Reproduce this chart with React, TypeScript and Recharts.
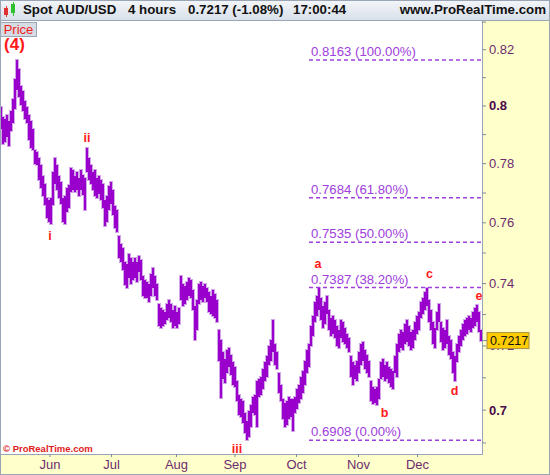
import { ComposedChart, Bar, Scatter, XAxis, YAxis, ReferenceLine } from 'recharts'

const FONT = 'Arial, "Liberation Sans", Helvetica, sans-serif'

// 4 hour bars, high / low per column
const highs = [
  0.7995, 0.7960, 0.7953, 0.7967, 0.7946, 0.7981, 0.8023, 0.8094, 0.8163, 0.8130,
  0.8072, 0.8051, 0.8016, 0.7995, 0.7967, 0.7946, 0.7918, 0.7848, 0.7841, 0.7820,
  0.7796, 0.7759, 0.7731, 0.7684, 0.7677, 0.7684, 0.7772, 0.7820, 0.7796, 0.7759,
  0.7738, 0.7684, 0.7691, 0.7718, 0.7728, 0.7786, 0.7779, 0.7759, 0.7772, 0.7752,
  0.7779, 0.7762, 0.7752, 0.7855, 0.7820, 0.7796, 0.7772, 0.7779, 0.7752, 0.7759,
  0.7745, 0.7731, 0.7677, 0.7691, 0.7724, 0.7738, 0.7711, 0.7657, 0.7643, 0.7556,
  0.7530, 0.7517, 0.7470, 0.7463, 0.7497, 0.7483, 0.7470, 0.7483, 0.7470, 0.7490,
  0.7476, 0.7424, 0.7411, 0.7405, 0.7398, 0.7431, 0.7450, 0.7424, 0.7398, 0.7333,
  0.7320, 0.7314, 0.7308, 0.7333, 0.7346, 0.7333, 0.7314, 0.7327, 0.7308, 0.7320,
  0.7424, 0.7398, 0.7392, 0.7405, 0.7418, 0.7411, 0.7379, 0.7327, 0.7346, 0.7398,
  0.7405, 0.7392, 0.7398, 0.7385, 0.7372, 0.7359, 0.7379, 0.7366, 0.7346, 0.7250,
  0.7218, 0.7180, 0.7160, 0.7186, 0.7192, 0.7173, 0.7148, 0.7135, 0.7091, 0.7047,
  0.7035, 0.7029, 0.6992, 0.6967, 0.6998, 0.7017, 0.7041, 0.7047, 0.7091, 0.7097,
  0.7104, 0.7129, 0.7148, 0.7167, 0.7199, 0.7218, 0.7282, 0.7205, 0.7180, 0.7116,
  0.7079, 0.7035, 0.7023, 0.7029, 0.7041, 0.7035, 0.7035, 0.7041, 0.7066, 0.7079,
  0.7104, 0.7122, 0.7154, 0.7186, 0.7205, 0.7263, 0.7295, 0.7340, 0.7359, 0.7387,
  0.7353, 0.7327, 0.7340, 0.7359, 0.7314, 0.7288, 0.7295, 0.7282, 0.7263, 0.7250,
  0.7282, 0.7275, 0.7256, 0.7237, 0.7224, 0.7167, 0.7148, 0.7141, 0.7154, 0.7180,
  0.7205, 0.7212, 0.7186, 0.7173, 0.7154, 0.7091, 0.7072, 0.7066, 0.7072, 0.7097,
  0.7148, 0.7160, 0.7141, 0.7148, 0.7135, 0.7129, 0.7122, 0.7167, 0.7205, 0.7237,
  0.7250, 0.7243, 0.7269, 0.7282, 0.7263, 0.7243, 0.7250, 0.7275, 0.7295, 0.7308,
  0.7340, 0.7353, 0.7372, 0.7385, 0.7346, 0.7314, 0.7275, 0.7256, 0.7308, 0.7333,
  0.7275, 0.7256, 0.7250, 0.7282, 0.7231, 0.7218, 0.7180, 0.7167, 0.7205, 0.7231,
  0.7250, 0.7269, 0.7282, 0.7288, 0.7295, 0.7288, 0.7308, 0.7320, 0.7330, 0.7308,
  0.7250,
]
const lows = [
  0.7918, 0.7866, 0.7876, 0.7890, 0.7862, 0.7911, 0.7939, 0.7988, 0.8058, 0.8030,
  0.8002, 0.7981, 0.7953, 0.7939, 0.7883, 0.7855, 0.7848, 0.7799, 0.7796, 0.7745,
  0.7718, 0.7691, 0.7660, 0.7616, 0.7602, 0.7596, 0.7660, 0.7731, 0.7711, 0.7684,
  0.7663, 0.7602, 0.7596, 0.7636, 0.7650, 0.7704, 0.7711, 0.7704, 0.7711, 0.7691,
  0.7711, 0.7694, 0.7643, 0.7772, 0.7745, 0.7731, 0.7711, 0.7691, 0.7684, 0.7697,
  0.7677, 0.7650, 0.7589, 0.7602, 0.7643, 0.7663, 0.7626, 0.7583, 0.7569, 0.7483,
  0.7470, 0.7444, 0.7395, 0.7385, 0.7418, 0.7398, 0.7411, 0.7418, 0.7405, 0.7437,
  0.7411, 0.7359, 0.7353, 0.7353, 0.7340, 0.7359, 0.7385, 0.7359, 0.7346, 0.7263,
  0.7256, 0.7263, 0.7269, 0.7282, 0.7288, 0.7275, 0.7256, 0.7263, 0.7256, 0.7269,
  0.7346, 0.7327, 0.7333, 0.7346, 0.7359, 0.7353, 0.7314, 0.7218, 0.7250, 0.7333,
  0.7346, 0.7340, 0.7353, 0.7340, 0.7308, 0.7301, 0.7295, 0.7288, 0.7275, 0.7154,
  0.7038, 0.7097, 0.7085, 0.7116, 0.7135, 0.7110, 0.7079, 0.7072, 0.7029, 0.6986,
  0.6980, 0.6961, 0.6930, 0.6908, 0.6918, 0.6948, 0.6992, 0.6986, 0.6948, 0.7041,
  0.7047, 0.7066, 0.7091, 0.7104, 0.7141, 0.7154, 0.7180, 0.7141, 0.7129, 0.7054,
  0.7029, 0.6973, 0.6948, 0.6955, 0.6973, 0.6980, 0.6936, 0.6992, 0.7004, 0.7023,
  0.7035, 0.7054, 0.7079, 0.7116, 0.7135, 0.7199, 0.7231, 0.7275, 0.7295, 0.7314,
  0.7282, 0.7256, 0.7269, 0.7301, 0.7250, 0.7231, 0.7237, 0.7224, 0.7199, 0.7192,
  0.7224, 0.7212, 0.7205, 0.7192, 0.7180, 0.7104, 0.7079, 0.7097, 0.7091, 0.7116,
  0.7141, 0.7154, 0.7129, 0.7116, 0.7104, 0.7029, 0.7020, 0.7023, 0.7017, 0.7035,
  0.7097, 0.7104, 0.7091, 0.7097, 0.7085, 0.7072, 0.7066, 0.7116, 0.7104, 0.7180,
  0.7192, 0.7186, 0.7205, 0.7212, 0.7199, 0.7186, 0.7192, 0.7218, 0.7237, 0.7250,
  0.7288, 0.7301, 0.7314, 0.7327, 0.7275, 0.7250, 0.7205, 0.7192, 0.7250, 0.7275,
  0.7212, 0.7186, 0.7192, 0.7205, 0.7173, 0.7160, 0.7116, 0.7091, 0.7148, 0.7180,
  0.7199, 0.7218, 0.7231, 0.7237, 0.7250, 0.7243, 0.7256, 0.7263, 0.7275, 0.7243,
  0.7217,
]

// bar index where each month starts
const monthNames = ['Jun', 'Jul', 'Aug', 'Sep', 'Oct', 'Nov', 'Dec']
const monthTicks = [24.5, 55.25, 87.75, 117, 147.75, 178.75, 208.25]

const priceTicks = [0.69, 0.7, 0.71, 0.72, 0.73, 0.74, 0.75, 0.76, 0.77, 0.78, 0.79, 0.8, 0.81, 0.82, 0.83]
const priceDomain = [0.68665, 0.8304]
const lastPrice = 0.7217

// fibonacci retracement of the (4) -> iii leg
const fibLevels = [0.8163, 0.7684, 0.7535, 0.7387, 0.6908]
const fibPercents = ['100.00%', '61.80%', '50.00%', '38.20%', '0.00%']
const fibStart = 154

// elliott wave labels
const waveNames = ['(4)', 'i', 'ii', 'iii', 'a', 'b', 'c', 'd', 'e']
const waveIndex = [6.75, 24.5, 43, 118, 158.5, 191.75, 214.25, 226.75, 239]
const wavePrice = [0.8198, 0.7543, 0.7873, 0.6869, 0.745, 0.6979, 0.7418, 0.7048, 0.7346]

const bars = highs.map((h, i) => ({ i, range: [lows[i], h] }))
const waves = waveNames.map((name, n) => ({ i: waveIndex[n], p: wavePrice[n], name }))

const BORDER = '#9aa6b6'
const FIB = '#a040dc'

// soft edge drawn under every bar first, then the solid core on top
const HaloBar = (props: any) => {
  const { x, y, width, height } = props
  const cx = Math.round(x + width / 2)
  const top = Math.min(y, y + height)
  const h = Math.max(Math.abs(height), 1)
  return <rect x={cx - 2} y={top - 1} width={4} height={h + 2} fill="#d3a6ea" shapeRendering="crispEdges" />
}

const CoreBar = (props: any) => {
  const { x, y, width, height } = props
  const cx = Math.round(x + width / 2)
  const top = Math.min(y, y + height)
  const h = Math.max(Math.abs(height), 1)
  return <rect x={cx - 1} y={top} width={2} height={h} fill="#9a00cc" shapeRendering="crispEdges" />
}

const PriceTick = (props: any) => {
  const { x, y, payload } = props
  const v = payload.value
  if (v === lastPrice) {
    return (
      <g>
        <line x1={x - 7} x2={x - 2} y1={y} y2={y} stroke="#7d8aa0" />
        <rect x={x - 2} y={y - 8} width={42} height={16} fill="#ffcc00" stroke="#a89040" />
        <text x={x + 1} y={y} dy={4.5} fill="#111" fontSize={12.5} fontFamily={FONT}>
          {lastPrice.toFixed(4)}
        </text>
      </g>
    )
  }
  const cents = Math.round(v * 100)
  const labeled = cents % 2 === 0
  const strong = cents % 10 === 0
  return (
    <g>
      <line x1={x - 7} x2={x - 3} y1={y} y2={y} stroke="#7d8aa0" />
      {labeled && (
        <text
          x={x}
          y={y}
          dy={4.5}
          fill={strong ? '#4b0a4b' : '#6e2c6e'}
          fontWeight={strong ? 'bold' : 'normal'}
          fontSize={13}
          fontFamily={FONT}
        >
          {String(Number(v.toFixed(2)))}
        </text>
      )}
    </g>
  )
}

const MonthTick = (props: any) => {
  const { x, y, payload } = props
  const name = monthNames[monthTicks.indexOf(payload.value)]
  return (
    <g>
      <line x1={x} x2={x} y1={y - 3} y2={y} stroke="#7d8aa0" />
      <text x={x} y={y + 12} textAnchor="middle" fill="#6e2c6e" fontSize={13} fontFamily={FONT}>
        {name}
      </text>
    </g>
  )
}

const WaveLabel = (props: any) => {
  const { cx, cy, payload } = props
  const big = payload.name === '(4)'
  return (
    <text
      x={cx}
      y={cy}
      textAnchor="middle"
      fill="#ff1a1a"
      fontSize={big ? 17 : 12.5}
      fontWeight="bold"
      fontFamily={FONT}
    >
      {payload.name}
    </text>
  )
}

const App = () => {
  return (
    <div
      style={{
        position: 'absolute',
        left: 0,
        top: 0,
        width: 550,
        height: 475,
        background: '#ffffcc',
        fontFamily: FONT,
        overflow: 'hidden',
      }}
    >
      {/* title bar */}
      <div
        style={{
          position: 'absolute',
          left: 0,
          top: 0,
          width: 550,
          height: 21,
          boxSizing: 'border-box',
          background: 'linear-gradient(#f4f6f9, #d8e0ea)',
          borderBottom: `1px solid ${BORDER}`,
          fontSize: 13.3,
          fontWeight: 'bold',
          color: '#111',
        }}
      >
        <div style={{ position: 'absolute', left: 4, top: 8, width: 4, height: 7, background: '#e03030' }} />
        <div style={{ position: 'absolute', left: 5.5, top: 6, width: 1, height: 11, background: '#e03030' }} />
        <div style={{ position: 'absolute', left: 11, top: 4, width: 4, height: 9, background: '#30c030' }} />
        <div style={{ position: 'absolute', left: 12.5, top: 2, width: 1, height: 14, background: '#30c030' }} />
        <span style={{ position: 'absolute', left: 23, top: 2 }}>Spot AUD/USD</span>
        <span style={{ position: 'absolute', left: 128, top: 2 }}>4 hours</span>
        <span style={{ position: 'absolute', left: 188, top: 2 }}>0.7217 (-1.08%)</span>
        <span style={{ position: 'absolute', left: 293, top: 2 }}>17:00:44</span>
        <span style={{ position: 'absolute', right: 4, top: 2 }}>www.ProRealTime.com</span>
      </div>

      {/* plot area */}
      <div
        style={{
          position: 'absolute',
          left: 0,
          top: 21,
          width: 483,
          height: 434,
          boxSizing: 'border-box',
          background: '#ffffff',
          borderLeft: `1px solid ${BORDER}`,
          borderRight: `1px solid ${BORDER}`,
          borderBottom: `1px solid ${BORDER}`,
        }}
      />

      <div style={{ position: 'absolute', left: 0, top: 0 }}>
        <ComposedChart
          width={550}
          height={475}
          data={bars}
          barGap={-2}
          margin={{ top: 21, right: 0, bottom: 0, left: 0 }}
        >
          <XAxis
            type="number"
            dataKey="i"
            domain={[-0.5, 240.5]}
            allowDataOverflow
            ticks={monthTicks}
            interval={0}
            height={21}
            tickSize={3}
            tickMargin={0}
            axisLine={false}
            tickLine={false}
            tick={<MonthTick />}
          />
          <YAxis
            orientation="right"
            type="number"
            scale="log"
            domain={priceDomain}
            allowDataOverflow
            ticks={[...priceTicks, lastPrice]}
            interval={0}
            width={68}
            tickSize={4}
            tickMargin={3}
            axisLine={false}
            tickLine={false}
            tick={<PriceTick />}
          />
          {fibLevels.map((v, n) => (
            <ReferenceLine
              key={v}
              segment={[
                { x: fibStart, y: v },
                { x: 240.5, y: v },
              ]}
              stroke={FIB}
              strokeWidth={1.5}
              strokeDasharray="4 3"
              ifOverflow="visible"
              label={(p: any) => (
                <text x={p.viewBox.x + 2} y={p.viewBox.y - 4} fill={FIB} fontSize={13.2} fontFamily={FONT}>
                  {`${v.toFixed(4)} (${fibPercents[n]})`}
                </text>
              )}
            />
          ))}
          <Bar dataKey="range" barSize={2} shape={<HaloBar />} isAnimationActive={false} />
          <Bar dataKey="range" barSize={2} shape={<CoreBar />} isAnimationActive={false} />
          <Scatter data={waves} dataKey="p" shape={<WaveLabel />} isAnimationActive={false} />
        </ComposedChart>
      </div>

      {/* panel label */}
      <div
        style={{
          position: 'absolute',
          left: 0,
          top: 22,
          width: 37,
          height: 15,
          boxSizing: 'border-box',
          background: '#d6dce4',
          border: `1px solid ${BORDER}`,
          color: '#ee1c1c',
          fontSize: 13,
          lineHeight: '13px',
          textAlign: 'center',
        }}
      >
        Price
      </div>

      <div
        style={{
          position: 'absolute',
          left: 3,
          top: 443,
          color: '#e01b1b',
          fontSize: 9.5,
          fontWeight: 'bold',
          whiteSpace: 'nowrap',
        }}
      >
        © ProRealTime.com
      </div>

      {/* outer frame */}
      <div
        style={{
          position: 'absolute',
          left: 0,
          top: 0,
          width: 550,
          height: 475,
          boxSizing: 'border-box',
          border: `1px solid ${BORDER}`,
          pointerEvents: 'none',
        }}
      />
    </div>
  )
}

export default App
